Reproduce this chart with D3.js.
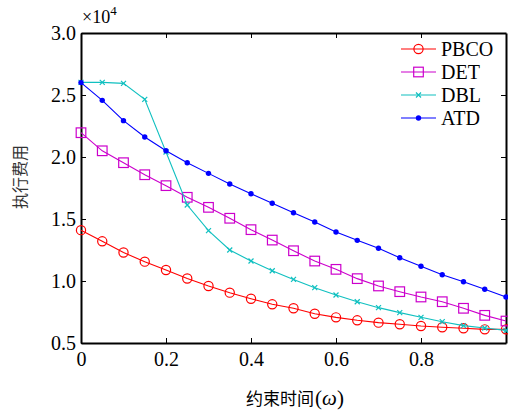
<!DOCTYPE html>
<html>
<head>
<meta charset="utf-8">
<script src="https://cdn.jsdelivr.net/npm/d3@7"></script>
<style>
  body { margin: 0; background: #fff; }
  svg { display: block; }
</style>
</head>
<body>
<svg width="508" height="411"></svg>
<script>
// constraint time (omega)
const xs = [0, 0.05, 0.1, 0.15, 0.2, 0.25, 0.3, 0.35, 0.4, 0.45, 0.5,
            0.55, 0.6, 0.65, 0.7, 0.75, 0.8, 0.85, 0.9, 0.95, 1.0];
// execution cost, x10^4
const pbco = [1.41, 1.32, 1.23, 1.156, 1.089, 1.02, 0.96, 0.906, 0.857, 0.812, 0.78,
              0.736, 0.707, 0.683, 0.664, 0.651, 0.637, 0.627, 0.619, 0.61, 0.61];
const det  = [2.196, 2.05, 1.954, 1.857, 1.769, 1.675, 1.594, 1.506, 1.414, 1.33, 1.244,
              1.161, 1.094, 1.019, 0.96, 0.914, 0.871, 0.833, 0.78, 0.723, 0.677];
const dbl  = [2.602, 2.602, 2.594, 2.465, 2.04, 1.613, 1.406, 1.25, 1.161, 1.083, 1.013,
              0.946, 0.887, 0.833, 0.785, 0.745, 0.707, 0.672, 0.64, 0.621, 0.602];
const atd  = [2.6, 2.457, 2.293, 2.161, 2.05, 1.954, 1.868, 1.782, 1.704, 1.627, 1.551,
              1.476, 1.395, 1.328, 1.264, 1.188, 1.119, 1.051, 0.994, 0.933, 0.871];
const seriesNames = ["PBCO", "DET", "DBL", "ATD"];
const seriesColors = ["#ff0000", "#cc00cc", "#10c0c0", "#0000ff"];
const seriesMarkers = ["circle", "square", "cross", "dot"];
const xTicks = [0, 0.2, 0.4, 0.6, 0.8];
const yTicks = [0.5, 1.0, 1.5, 2.0, 2.5, 3.0];

const SERIF = "Liberation Serif";
const CJK = "Noto Sans CJK SC";

const svg = d3.select("svg");
const plotLeft = 81, plotRight = 506, plotTop = 33, plotBottom = 343;

const x = d3.scaleLinear().domain([0, 1]).range([plotLeft, plotRight]);
const y = d3.scaleLinear().domain([0.5, 3.0]).range([plotBottom, plotTop]);

const g = svg.append("g");
const values = [pbco, det, dbl, atd];

drawAxes();
values.forEach((v, i) => drawSeries(v, i));
drawLegend();
drawLabels();

/////////////HELPERS//////////////////

function drawAxes() {
    const fmt = d => d === 0 ? "0" : d3.format(".1f")(d);

    g.append("g")
        .attr("transform", `translate(0,${plotBottom})`)
        .call(d3.axisBottom(x).tickValues(xTicks).tickSizeInner(-5).tickSizeOuter(0)
            .tickPadding(9).tickFormat(fmt))
        .call(styleAxis);

    g.append("g")
        .attr("transform", `translate(0,${plotTop})`)
        .call(d3.axisTop(x).tickValues(xTicks).tickSizeInner(-5).tickSizeOuter(0)
            .tickFormat(""))
        .call(styleAxis);

    g.append("g")
        .attr("transform", `translate(${plotLeft},0)`)
        .call(d3.axisLeft(y).tickValues(yTicks).tickSizeInner(-5).tickSizeOuter(0)
            .tickPadding(5).tickFormat(d3.format(".1f")))
        .call(styleAxis);

    g.append("g")
        .attr("transform", `translate(${plotRight},0)`)
        .call(d3.axisRight(y).tickValues(yTicks).tickSizeInner(-5).tickSizeOuter(0)
            .tickFormat(""))
        .call(styleAxis);
}

function styleAxis(sel) {
    sel.attr("font-family", SERIF).attr("font-size", 20);
    sel.select(".domain").attr("stroke", "#000").attr("stroke-width", 2);
    sel.selectAll(".tick line").attr("stroke", "#000").attr("stroke-width", 1);
    sel.selectAll(".tick text").attr("fill", "#000");
}

function drawSeries(v, i) {
    const color = seriesColors[i];
    const pts = xs.map((d, k) => [x(d), y(v[k])]);

    g.append("path")
        .attr("d", d3.line()(pts))
        .attr("fill", "none")
        .attr("stroke", color)
        .attr("stroke-width", 1.1);

    const mg = g.append("g");
    pts.forEach(p => drawMarker(mg, seriesMarkers[i], p[0], p[1], color));
}

function drawMarker(sel, type, cx, cy, color) {
    if (type === "circle") {
        sel.append("circle").attr("cx", cx).attr("cy", cy).attr("r", 4.6)
            .attr("fill", "none").attr("stroke", color).attr("stroke-width", 1.2);
    } else if (type === "square") {
        sel.append("rect").attr("x", cx - 4.8).attr("y", cy - 4.8)
            .attr("width", 9.6).attr("height", 9.6)
            .attr("fill", "none").attr("stroke", color).attr("stroke-width", 1.2);
    } else if (type === "cross") {
        const s = 2.5;
        sel.append("path")
            .attr("d", `M${cx - s},${cy - s}L${cx + s},${cy + s}M${cx - s},${cy + s}L${cx + s},${cy - s}`)
            .attr("stroke", color).attr("stroke-width", 1.2);
    } else {
        sel.append("circle").attr("cx", cx).attr("cy", cy).attr("r", 2.7)
            .attr("fill", color);
    }
}

function drawLegend() {
    const lx1 = 401, lx2 = 436, rows = [49, 72, 95, 118];
    seriesNames.forEach((name, i) => {
        const lg = svg.append("g");
        lg.append("line")
            .attr("x1", lx1).attr("x2", lx2)
            .attr("y1", rows[i]).attr("y2", rows[i])
            .attr("stroke", seriesColors[i]).attr("stroke-width", 1.1);
        drawMarker(lg, seriesMarkers[i], (lx1 + lx2) / 2, rows[i], seriesColors[i]);
        lg.append("text")
            .attr("x", 441).attr("y", rows[i] + 7)
            .attr("font-family", SERIF)
            .attr("font-size", 20)
            .text(name);
    });
}

function drawLabels() {
    const mult = svg.append("text")
        .attr("x", 82).attr("y", 23)
        .attr("font-family", SERIF)
        .attr("font-size", 18);
    mult.append("tspan").text("×10");
    mult.append("tspan").attr("dy", -8).attr("font-size", 13).text("4");

    const xl = svg.append("text")
        .attr("x", 295).attr("y", 405)
        .attr("text-anchor", "middle")
        .attr("font-family", SERIF)
        .attr("font-size", 21);
    xl.append("tspan").attr("font-family", CJK).attr("font-size", 17).text("约束时间");
    xl.append("tspan").attr("dx", 1).text("(");
    xl.append("tspan").attr("font-style", "italic").text("ω");
    xl.append("tspan").text(")");

    svg.append("text")
        .attr("transform", "translate(26,177) rotate(-90)")
        .attr("text-anchor", "middle")
        .attr("font-family", CJK)
        .attr("font-size", 16)
        .attr("fill", "#333")
        .text("执行费用");
}
</script>
</body>
</html>
